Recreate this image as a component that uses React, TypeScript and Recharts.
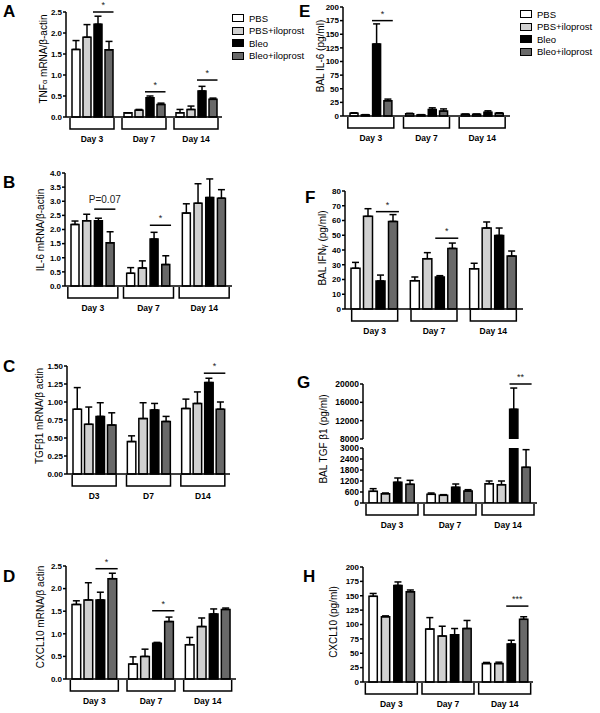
import React from "react";
import { BarChart, Bar, XAxis, YAxis, ErrorBar, ReferenceLine, Legend } from "recharts";

const FONT = "'Liberation Sans', Arial, Helvetica, sans-serif";
const SERIES = ["PBS", "PBS+iloprost", "Bleo", "Bleo+iloprost"];
const FILLS = ["#ffffff", "#d0d0d0", "#000000", "#696969"];
const DAYS = ["Day 3", "Day 7", "Day 14"];
const D_DAYS = ["D3", "D7", "D14"];

// A: TNFa mRNA (rows = PBS, PBS+iloprost, Bleo, Bleo+iloprost; cols = day 3, 7, 14)
const tnfMean = [[1.61, 0.1, 0.1], [1.9, 0.16, 0.18], [2.21, 0.46, 0.62], [1.6, 0.3, 0.42]];
const tnfSem = [[0.21, 0, 0.08], [0.3, 0.02, 0.08], [0.19, 0.04, 0.11], [0.2, 0.03, 0.03]];
const tnfSig = [{ day: "Day 3", y: 2.5, text: "*" }, { day: "Day 7", y: 0.6, text: "*" }, { day: "Day 14", y: 0.88, text: "*" }];

// E: BAL IL-6
const il6BalMean = [[5, 4, 3], [2, 2, 3], [132, 12, 7], [28, 9, 5]];
const il6BalSem = [[1, 1, 0.5], [0.5, 0.5, 0.5], [37, 3, 2.5], [3, 4, 1]];
const il6BalSig = [{ day: "Day 3", y: 175, text: "*" }];

// B: IL-6 mRNA
const il6Mean = [[2.18, 0.45, 2.58], [2.31, 0.64, 2.93], [2.31, 1.66, 3.13], [1.53, 0.76, 3.11]];
const il6Sem = [[0.12, 0.2, 0.33], [0.23, 0.25, 0.69], [0.09, 0.24, 0.66], [0.39, 0.31, 0.3]];
const il6Sig = [{ day: "Day 3", y: 2.72, text: "P=0.07" }, { day: "Day 7", y: 2.15, text: "*" }];

// F: BAL IFNg
const ifnMean = [[27.6, 19.2, 27.3], [62.8, 34.1, 54.9], [19, 21.7, 49.9], [59.4, 41.1, 35.9]];
const ifnSem = [[4, 2.5, 3.7], [5.2, 4.1, 4.1], [4, 0.9, 5], [4.6, 3.6, 3.4]];
const ifnSig = [{ day: "Day 3", y: 66, text: "*" }, { day: "Day 7", y: 48, text: "*" }];

// C: TGFb1 mRNA
const tgfMean = [[0.9, 0.45, 0.91], [0.69, 0.77, 0.98], [0.8, 0.89, 1.27], [0.68, 0.73, 0.9]];
const tgfSem = [[0.3, 0.08, 0.13], [0.24, 0.22, 0.16], [0.19, 0.09, 0.06], [0.17, 0.07, 0.1]];
const tgfSig = [{ day: "D14", y: 1.4, text: "*" }];

// G: BAL TGFb1 (broken axis)
const tgfBalMean = [[636, 473, 1055], [509, 418, 1000], [1127, 855, 14470], [1018, 655, 1945]];
const tgfBalSem = [[146, 72, 145], [36, 37, 200], [237, 181, 4650], [218, 72, 964]];
const tgfBalSig = [{ day: "Day 14", y: 20000, text: "**" }];

// D: CXCL10 mRNA
const cxclMean = [[1.65, 0.33, 0.76], [1.75, 0.5, 1.16], [1.75, 0.79, 1.44], [2.22, 1.27, 1.54]];
const cxclSem = [[0.08, 0.16, 0.16], [0.38, 0.16, 0.19], [0.17, 0.02, 0.11], [0.12, 0.1, 0.03]];
const cxclSig = [{ day: "Day 3", y: 2.44, text: "*" }, { day: "Day 7", y: 1.51, text: "*" }];

// H: BAL CXCL10
const cxclBalMean = [[149, 92, 32], [113.5, 80, 32], [168, 82, 66], [157, 93, 109]];
const cxclBalSem = [[5, 20, 2], [1.5, 17, 2.5], [6, 11, 6.6], [3, 14, 4.5]];
const cxclBalSig = [{ day: "Day 14", y: 132, text: "***" }];

const ticks25 = [0, 0.5, 1, 1.5, 2, 2.5];
const ticks4 = [0, 0.5, 1, 1.5, 2, 2.5, 3, 3.5, 4];
const ticks150 = [0, 0.25, 0.5, 0.75, 1, 1.25, 1.5];
const ticks200 = [0, 25, 50, 75, 100, 125, 150, 175, 200];
const ticks80 = [0, 10, 20, 30, 40, 50, 60, 70, 80];
const ticksLow = [0, 600, 1200, 1800, 2400, 3000];
const ticksHigh = [8000, 12000, 16000, 20000];

function rows(days: string[], mean: number[][], sem: number[][], keep = (v: number) => true) {
  return days.map((day, i) => {
    const r: any = { day };
    mean.forEach((s, k) => {
      r["s" + k] = keep(s[i]) ? s[i] : null;
      r["e" + k] = [0, sem[k][i]];
    });
    return r;
  });
}

const DayTick = (p: any) => {
  const { x, y, payload, half } = p;
  return (
    <g>
      <path d={`M${x - half},${y + 1}V${y + 12}H${x + half}V${y + 1}`} fill="none" stroke="#000" strokeWidth={1.5} />
      <text x={x} y={y + 25} textAnchor="middle" fontSize={8.5} fontWeight="bold" fill="#000" fontFamily={FONT}>
        {payload.value}
      </text>
    </g>
  );
};

const LegendBox = () => (
  <div style={{ fontFamily: FONT, fontSize: 9.5, color: "#000" }}>
    {SERIES.map((n, k) => (
      <div key={n} style={{ display: "flex", alignItems: "center", height: 12.5, whiteSpace: "nowrap" }}>
        <span style={{ display: "inline-block", width: 10, height: 6, border: "1.5px solid #000", background: FILLS[k], marginRight: 5 }} />
        {n}
      </div>
    ))}
  </div>
);

type Box = { l: number; r: number; t: number; b: number };

function Panel(props: any) {
  const { box, data, domain, ticks, fmt, barSize, barGap, half, sig = [], hideX, legendAt, overflow, tickFont = 8 } = props as {
    box: Box; data: any[]; domain: number[]; ticks: number[]; fmt: (v: number) => string; barSize: number; barGap: number;
    half: number; sig?: any[]; hideX?: boolean; legendAt?: { x: number; y: number }; overflow?: boolean; tickFont?: number;
  };
  const yw = 34, mt = 16, mr = 4, xh = hideX ? 0 : 34, mb = hideX ? 6 : 0;
  const width = box.r - box.l + yw + mr;
  const height = box.b - box.t + mt + xh + mb;
  const groupHalf = 2 * barSize + 1.5 * barGap;
  const axisStyle = { stroke: "#000", strokeWidth: 1.5 };
  return (
    <div style={{ position: "absolute", left: box.l - yw, top: box.t - mt }}>
      <BarChart width={width} height={height} data={data} margin={{ top: mt, right: mr, left: 0, bottom: mb }} barSize={barSize} barGap={barGap}>
        <XAxis
          dataKey="day"
          hide={hideX}
          height={xh}
          interval={0}
          tickSize={0}
          tickMargin={0}
          axisLine={axisStyle}
          tickLine={false}
          tick={(p: any) => <DayTick {...p} half={half} />}
        />
        <YAxis
          domain={domain}
          ticks={ticks}
          interval={0}
          allowDataOverflow={!!overflow}
          width={yw}
          tickSize={3}
          tickMargin={1}
          tickFormatter={fmt}
          axisLine={axisStyle}
          tickLine={axisStyle}
          tick={{ fontSize: tickFont, fontWeight: 700, fill: "#000", fontFamily: FONT }}
        />
        {SERIES.map((name, k) => (
          <Bar key={name} dataKey={"s" + k} name={name} fill={FILLS[k]} stroke="#000" strokeWidth={1.5} isAnimationActive={false}>
            <ErrorBar dataKey={"e" + k} width={3.5} stroke="#000" strokeWidth={1.5} direction="y" />
          </Bar>
        ))}
        {sig.map((s: any, i: number) => (
          <ReferenceLine
            key={i}
            segment={[{ x: s.day, y: s.y }, { x: s.day, y: s.y }]}
            ifOverflow="visible"
            shape={(lp: any) => {
              if (lp.x1 == null || lp.y1 == null) return <g />;
              const x0 = lp.x1 + barGap / 2 - 0.5;
              const x1 = lp.x1 + groupHalf + 1;
              const big = s.text.length > 3;
              return (
                <g>
                  <line x1={x0} x2={x1} y1={lp.y1} y2={lp.y1} stroke="#000" strokeWidth={1.5} />
                  <text x={(x0 + x1) / 2} y={lp.y1 - (big ? 6 : 4)} textAnchor="middle" fontSize={big ? 10 : 9} fill="#222" stroke="none" fontFamily={FONT}>
                    {s.text}
                  </text>
                </g>
              );
            }}
          />
        ))}
        {legendAt && (
          <Legend
            layout="vertical"
            align="center"
            verticalAlign="middle"
            wrapperStyle={{ left: legendAt.x - (box.l - yw), top: legendAt.y - (box.t - mt), width: 90 }}
            content={() => <LegendBox />}
          />
        )}
      </BarChart>
    </div>
  );
}

const LETTERS = [
  { t: "A", x: 3, y: 17 }, { t: "E", x: 299, y: 17 }, { t: "B", x: 3, y: 188 }, { t: "F", x: 305, y: 203 },
  { t: "C", x: 3, y: 372 }, { t: "G", x: 297, y: 388 }, { t: "D", x: 3, y: 582 }, { t: "H", x: 303, y: 582 },
];

const TITLES = [
  { x: 47, y: 59, main: "TNF", sub: "\u03b1", rest: " mRNA/\u03b2-actin" },
  { x: 323.5, y: 56, main: "BAL IL-6 (pg/ml)" },
  { x: 43.5, y: 230, main: "IL-6 mRNA/\u03b2-actin" },
  { x: 326, y: 248, main: "BAL IFN", sub: "\u03b3", rest: " (pg/ml)" },
  { x: 43, y: 416, main: "TGF\u03b21 mRNA/\u03b2 actin" },
  { x: 327, y: 439, main: "BAL TGF \u03b21 (pg/ml)" },
  { x: 44, y: 617, main: "CXCL10 mRNA/\u03b2 actin" },
  { x: 337, y: 622, main: "CXCL10 (pg/ml)" },
];

export default function App() {
  const f1 = (v: number) => v.toFixed(1);
  const f2 = (v: number) => v.toFixed(2);
  const f0 = (v: number) => String(v);
  return (
    <div style={{ position: "absolute", left: 0, top: 0, width: 600, height: 713, background: "#fff", overflow: "hidden", fontFamily: FONT }}>
      <svg width={600} height={713} style={{ position: "absolute", left: 0, top: 0 }}>
        {LETTERS.map((l) => (
          <text key={l.t} x={l.x} y={l.y} fontSize={17} fontWeight="bold" fontFamily={FONT} fill="#000">{l.t}</text>
        ))}
        {TITLES.map((t, i) => (
          <text key={i} x={t.x} y={t.y} transform={`rotate(-90 ${t.x} ${t.y})`} textAnchor="middle" fontSize={10} fontFamily={FONT} fill="#000">
            {t.main}
            {t.sub && <tspan fontSize={7.5}>{t.sub}</tspan>}
            {t.rest}
          </text>
        ))}
      </svg>

      <Panel box={{ l: 66, r: 222, t: 12, b: 117 }} data={rows(DAYS, tnfMean, tnfSem)} domain={[0, 2.5]} ticks={ticks25} fmt={f1}
        barSize={8} barGap={3} half={22} sig={tnfSig} legendAt={{ x: 232, y: 12 }} />
      <Panel box={{ l: 343, r: 510, t: 7, b: 116 }} data={rows(DAYS, il6BalMean, il6BalSem)} domain={[0, 200]} ticks={ticks200} fmt={f0}
        barSize={8} barGap={3.3} half={23} sig={il6BalSig} legendAt={{ x: 520, y: 8 }} />
      <Panel box={{ l: 65, r: 232, t: 173, b: 286 }} data={rows(DAYS, il6Mean, il6Sem)} domain={[0, 4]} ticks={ticks4} fmt={f1}
        barSize={8} barGap={3.7} half={25} sig={il6Sig} />
      <Panel box={{ l: 345, r: 523, t: 191, b: 309 }} data={rows(DAYS, ifnMean, ifnSem)} domain={[0, 80]} ticks={ticks80} fmt={f0}
        barSize={9} barGap={3.5} half={23} sig={ifnSig} />
      <Panel box={{ l: 67, r: 230, t: 366, b: 474 }} data={rows(D_DAYS, tgfMean, tgfSem)} domain={[0, 1.5]} ticks={ticks150} fmt={f2}
        barSize={8.5} barGap={3} half={22} sig={tgfSig} />
      <Panel box={{ l: 363, r: 537, t: 384, b: 439 }} data={rows(DAYS, tgfBalMean, tgfBalSem, (v) => v >= 8000)} domain={[8000, 20000]} ticks={ticksHigh} fmt={f0}
        barSize={8.3} barGap={4} half={26} sig={tgfBalSig} hideX overflow tickFont={8.5} />
      <Panel box={{ l: 363, r: 537, t: 448, b: 503 }} data={rows(DAYS, tgfBalMean, tgfBalSem)} domain={[0, 3000]} ticks={ticksLow} fmt={f0}
        barSize={8.3} barGap={4} half={26} overflow tickFont={8.5} />
      <Panel box={{ l: 66, r: 236, t: 566, b: 679 }} data={rows(DAYS, cxclMean, cxclSem)} domain={[0, 2.5]} ticks={ticks25} fmt={f1}
        barSize={8.7} barGap={3.3} half={24} sig={cxclSig} />
      <Panel box={{ l: 363, r: 533, t: 567, b: 682 }} data={rows(DAYS, cxclBalMean, cxclBalSem)} domain={[0, 200]} ticks={ticks200} fmt={f0}
        barSize={8.3} barGap={4.1} half={26} sig={cxclBalSig} />
    </div>
  );
}
